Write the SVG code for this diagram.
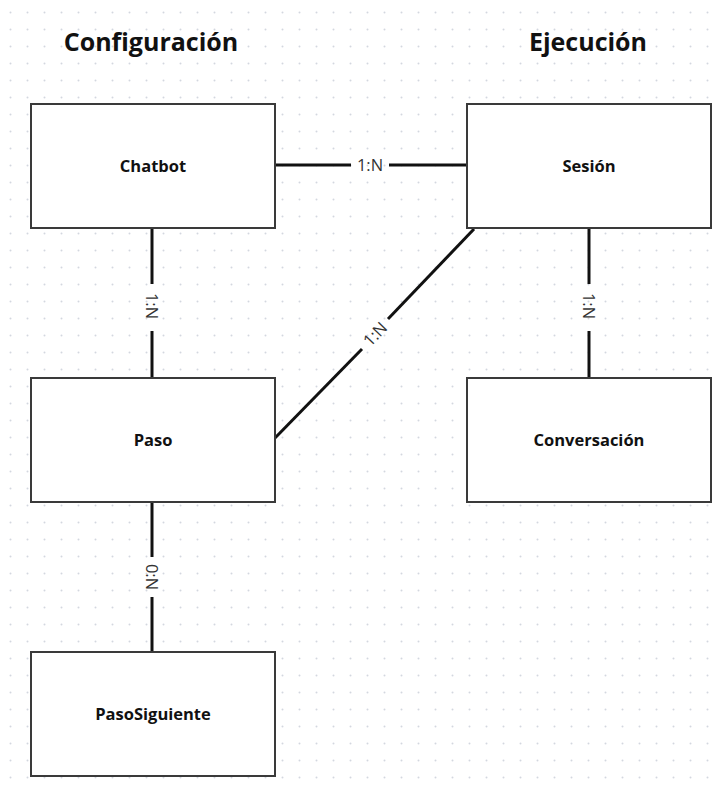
<svg xmlns="http://www.w3.org/2000/svg" width="719" height="787" viewBox="0 0 719 787">
<defs>
<pattern id="dots" x="2" y="4" width="17" height="17" patternUnits="userSpaceOnUse">
<circle cx="8.5" cy="8.5" r="1" fill="#d3d7df"/>
</pattern>
<style>
.box{fill:#fff;stroke:#3a3a3a;stroke-width:2}
.lbl{font-family:"Open Sans","Noto Sans",sans-serif;font-weight:bold;font-size:16.5px;fill:#111;text-anchor:middle}
.title{font-family:"Open Sans","Noto Sans",sans-serif;font-weight:bold;font-size:25px;fill:#111;text-anchor:middle}
.edge{stroke:#111;stroke-width:3;fill:none}
.el{font-family:"Open Sans","Noto Sans",sans-serif;font-size:16.5px;fill:#333;text-anchor:middle}
</style>
</defs>
<rect width="719" height="787" fill="#fff"/>
<rect width="719" height="787" fill="url(#dots)"/>
<text class="title" x="151" y="51">Configuración</text>
<text class="title" x="588" y="51">Ejecución</text>
<g id="connectors">
<line class="edge" x1="275" y1="165" x2="351" y2="165"/>
<line class="edge" x1="389" y1="165" x2="467" y2="165"/>
<text class="el" x="370" y="171">1:N</text>
<line class="edge" x1="152" y1="228" x2="152" y2="284"/>
<line class="edge" x1="152" y1="331" x2="152" y2="378"/>
<text class="el" transform="translate(152,306) rotate(90)" y="6">1:N</text>
<line class="edge" x1="589" y1="228" x2="589" y2="284"/>
<line class="edge" x1="589" y1="331" x2="589" y2="378"/>
<text class="el" transform="translate(589,306) rotate(90)" y="6">1:N</text>
<line class="edge" x1="152" y1="502" x2="152" y2="557"/>
<line class="edge" x1="152" y1="597" x2="152" y2="652"/>
<text class="el" transform="translate(152,577) rotate(90)" y="6">0:N</text>
<line class="edge" x1="474" y1="229" x2="388" y2="319"/>
<line class="edge" x1="362" y1="349" x2="274" y2="439"/>
<text class="el" transform="translate(375,334) rotate(-46)" y="6">1:N</text>
</g>
<g id="chatbot"><rect class="box" x="31" y="104" width="244" height="124"/><text class="lbl" x="153" y="172">Chatbot</text></g>
<g id="sesion"><rect class="box" x="467" y="104" width="244" height="124"/><text class="lbl" x="589" y="172">Sesión</text></g>
<g id="paso"><rect class="box" x="31" y="378" width="244" height="124"/><text class="lbl" x="153" y="446">Paso</text></g>
<g id="conversacion"><rect class="box" x="467" y="378" width="244" height="124"/><text class="lbl" x="589" y="446">Conversación</text></g>
<g id="pasosiguiente"><rect class="box" x="31" y="652" width="244" height="124"/><text class="lbl" x="153" y="720">PasoSiguiente</text></g>
</svg>
